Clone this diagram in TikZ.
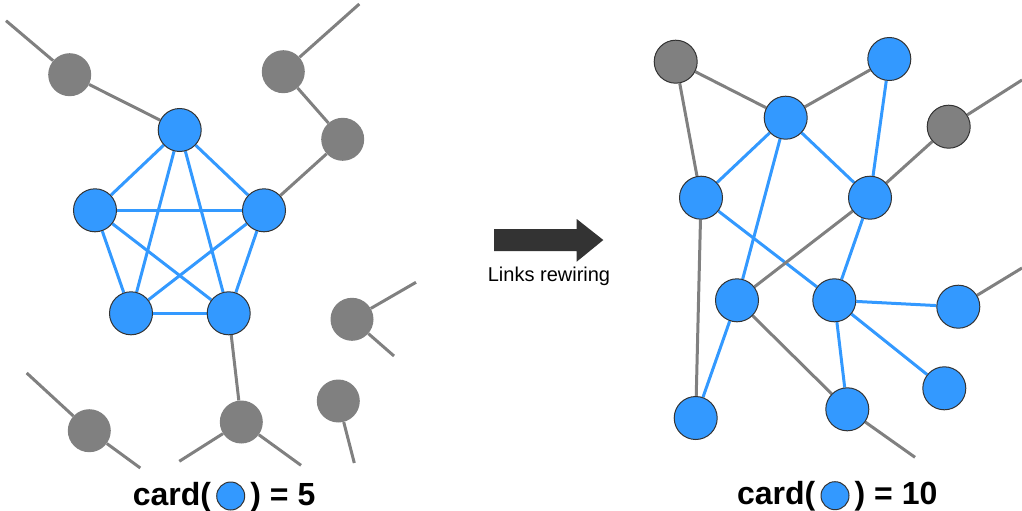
\documentclass[tikz,border=0pt]{standalone}
\usepackage{fontspec}
\setmainfont{Liberation Sans}
\usetikzlibrary{positioning,backgrounds}
\definecolor{nodeblue}{HTML}{3399FF}
\definecolor{nodegray}{HTML}{808080}
\definecolor{rim}{HTML}{333333}
\tikzset{bnode/.style={circle,draw=rim,line width=1pt,fill=nodeblue,minimum size=43pt,inner sep=0pt},gnode/.style={circle,fill=nodegray,minimum size=43pt,inner sep=0pt},gnoder/.style={gnode,draw=rim,line width=1pt},blink/.style={nodeblue,line width=3pt},glink/.style={nodegray,line width=3pt},title/.style={font=\bfseries\fontsize{32}{32}\selectfont,inner sep=0pt},tnode/.style={bnode,minimum size=28pt}}

\begin{document}
\begin{tikzpicture}[x=1pt,y=-1pt]
\useasboundingbox (0,0) rectangle (1022,511);

%left graph
\node[gnode] (lg1) at (69.7,74.7) {};
\node[gnode] (lg2) at (283.3,71.7) {};
\node[gnode] (lg3) at (342.7,139.3) {};
\node[gnode] (lg4) at (352,319.3) {};
\node[gnode] (lg5) at (89.3,430.7) {};
\node[gnode] (lg6) at (241.3,422) {};
\node[gnode] (lg7) at (338.3,401) {};
\node[bnode] (l1) at (179.7,130) {};
\node[bnode] (l2) at (95,210.3) {};
\node[bnode] (l3) at (264,210.3) {};
\node[bnode] (l4) at (131,313.3) {};
\node[bnode] (l5) at (228.7,313.3) {};
\coordinate (le1) at (6,20.7);
\coordinate (le2) at (359.3,4);
\coordinate (le3) at (416,282.3);
\coordinate (le4) at (394,356);
\coordinate (le5) at (26.7,373);
\coordinate (le6) at (140.3,468);
\coordinate (le7) at (179.3,461.3);
\coordinate (le8) at (301,465.3);
\coordinate (le9) at (354.3,463);
\begin{scope}[on background layer]
\foreach \a/\b in {l1/l2,l1/l3,l1/l4,l1/l5,l2/l3,l2/l4,l2/l5,l3/l4,l3/l5,l4/l5}
  \draw[blink] (\a) -- (\b);
\foreach \a/\b in {lg1/l1,lg1/le1,lg2/le2,lg2/lg3,lg3/l3,l5/lg6,lg6/le7,lg6/le8,lg4/le3,lg4/le4,lg5/le5,lg5/le6,lg7/le9}
  \draw[glink] (\a) -- (\b);
\end{scope}

%right graph
\node[gnoder] (rg1) at (675.7,61.7) {};
\node[gnoder] (rg2) at (948.7,126.7) {};
\node[bnode] (r1) at (785.7,117.7) {};
\node[bnode] (r2) at (889.3,59) {};
\node[bnode] (r3) at (701,197.7) {};
\node[bnode] (r4) at (870,197.7) {};
\node[bnode] (r5) at (737,300.3) {};
\node[bnode] (r6) at (834.3,300.3) {};
\node[bnode] (r7) at (958.3,306.7) {};
\node[bnode] (r8) at (944.3,388.3) {};
\node[bnode] (r9) at (695.7,418) {};
\node[bnode] (r10) at (847.3,409.3) {};
\coordinate (re1) at (1022,80);
\coordinate (re2) at (1022,268);
\coordinate (re3) at (915,457.3);
\begin{scope}[on background layer]
\foreach \a/\b in {r1/r3,r1/r5,r1/r4,r2/r4,r3/r6,r4/r6,r5/r9,r6/r7,r6/r8,r6/r10}
  \draw[blink] (\a) -- (\b);
\foreach \a/\b in {rg1/r1,rg1/r3,r3/r9,r1/r2,rg2/re1,rg2/r4,r4/r5,r5/r10,r10/re3,r7/re2}
  \draw[glink] (\a) -- (\b);
\end{scope}

%rewiring arrow
\fill[rim] (494,229) -- (576.7,229) -- (576.7,219) -- (603.3,240) -- (576.7,261.7) -- (576.7,251) -- (494,251) -- cycle;
\node[font=\fontsize{20}{20}\selectfont] (cap) at (549,276) {Links rewiring};

%titles
\node[tnode] (lc) at (230.7,496) {};
\node[title,anchor=base east] (lt1) at ([xshift=-5pt,yshift=-9pt]lc.west) {card(};
\node[title,anchor=base west] (lt2) at ([xshift=5pt,yshift=-9pt]lc.east) {) = 5};
\node[tnode] (rc) at (835,495.7) {};
\node[title,anchor=base east] (rt1) at ([xshift=-5pt,yshift=-9pt]rc.west) {card(};
\node[title,anchor=base west] (rt2) at ([xshift=5pt,yshift=-9pt]rc.east) {) = 10};

\end{tikzpicture}
\end{document}
